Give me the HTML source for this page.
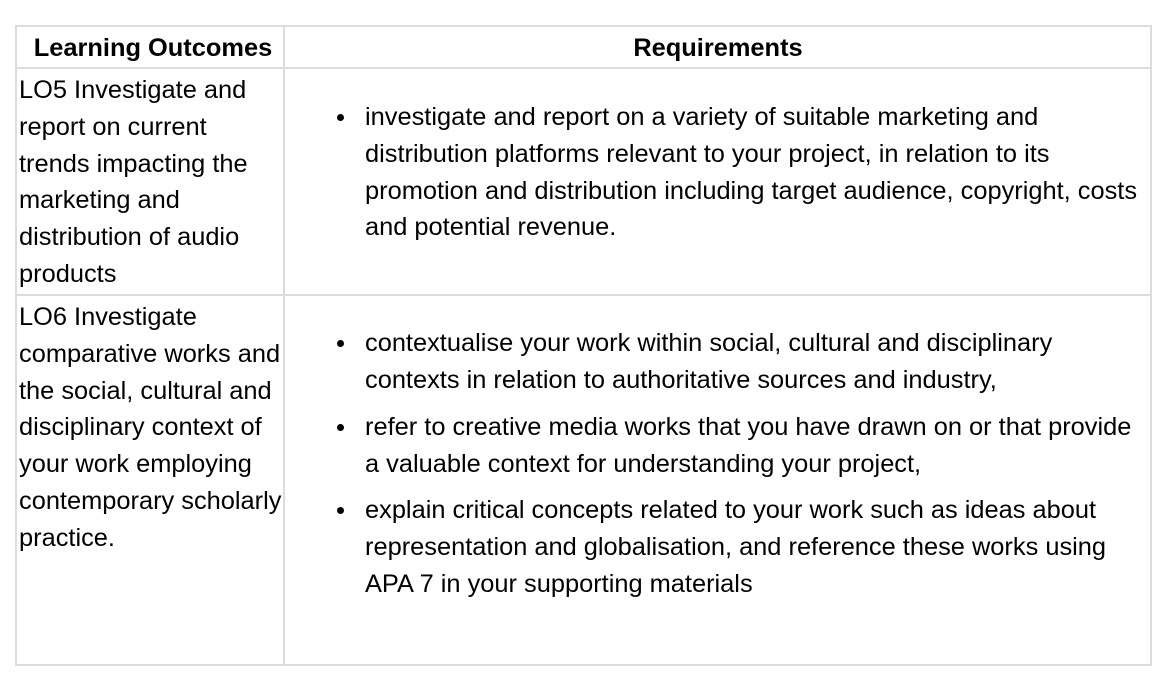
<!DOCTYPE html>
<html><head><meta charset="utf-8"><style>
html,body{margin:0;padding:0;background:#fff;width:1174px;height:692px;overflow:hidden}
body{position:relative;font-family:"Liberation Sans",Arial,sans-serif;color:#000}
.b{position:absolute;background:#dcdcdc}
.t{position:absolute;font-size:25.4px;line-height:36.8px;white-space:nowrap}
.h{position:absolute;font-size:25.4px;font-weight:bold;line-height:30px;white-space:nowrap;text-align:center}
.dot{position:absolute;width:7px;height:7px;border-radius:50%;background:#000}
</style></head><body>
<div>
<div class="b" style="left:15px;top:25px;width:1137px;height:2px"></div>
<div class="b" style="left:15px;top:664px;width:1137px;height:2px"></div>
<div class="b" style="left:15px;top:25px;width:2px;height:641px"></div>
<div class="b" style="left:1150px;top:25px;width:2px;height:641px"></div>
<div class="b" style="left:283px;top:25px;width:2px;height:641px"></div>
<div class="b" style="left:15px;top:67px;width:1137px;height:2px"></div>
<div class="b" style="left:15px;top:294px;width:1137px;height:2px"></div>

<div class="h" style="left:17px;width:272px;top:33px">Learning Outcomes</div>
<div class="h" style="left:285px;width:866px;top:33px">Requirements</div>

<div class="t" style="left:19px;top:72px">LO5 Investigate and<br>report on current<br>trends impacting the<br>marketing and<br>distribution of audio<br>products</div>

<div class="dot" style="left:337px;top:114px"></div>
<div class="t" style="left:365px;top:99px">investigate and report on a variety of suitable marketing and<br>distribution platforms relevant to your project, in relation to its<br>promotion and distribution including target audience, copyright, costs<br>and potential revenue.</div>

<div class="t" style="left:19px;top:299px">LO6 Investigate<br>comparative works and<br>the social, cultural and<br>disciplinary context of<br>your work employing<br>contemporary scholarly<br>practice.</div>

<div class="dot" style="left:337px;top:340px"></div>
<div class="t" style="left:365px;top:325px">contextualise your work within social, cultural and disciplinary<br>contexts in relation to authoritative sources and industry,</div>
<div class="dot" style="left:337px;top:424px"></div>
<div class="t" style="left:365px;top:409px">refer to creative media works that you have drawn on or that provide<br>a valuable context for understanding your project,</div>
<div class="dot" style="left:337px;top:507px"></div>
<div class="t" style="left:365px;top:492px">explain critical concepts related to your work such as ideas about<br>representation and globalisation, and reference these works using<br>APA 7 in your supporting materials</div>
</div>
</body></html>
